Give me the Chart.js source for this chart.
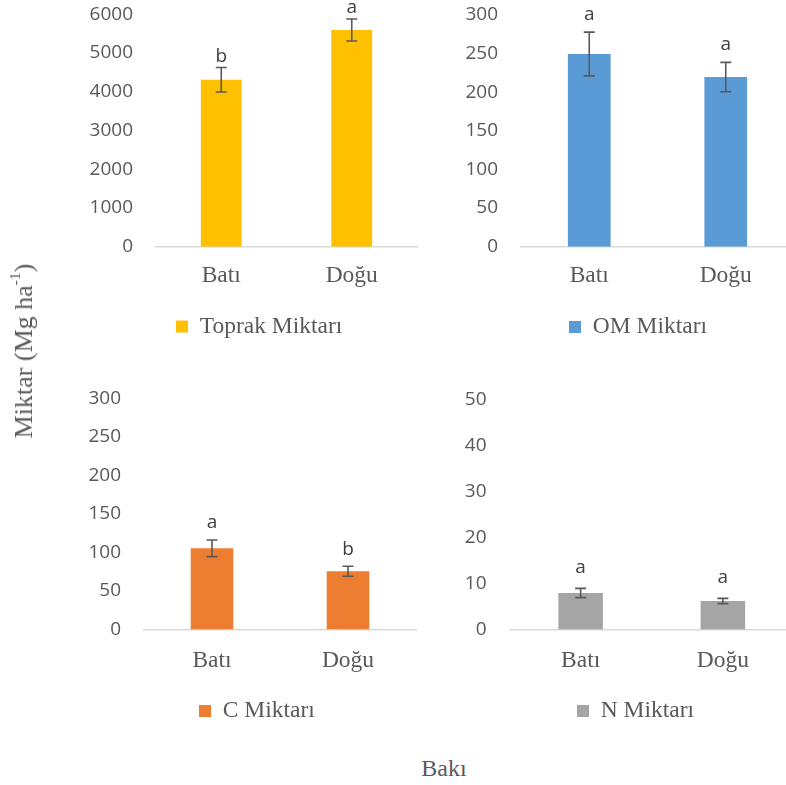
<!DOCTYPE html>
<html>
<head>
<meta charset="utf-8">
<script src="https://cdn.jsdelivr.net/npm/chart.js@4.4.1/dist/chart.umd.min.js"></script>
<style>
  html, body { margin: 0; padding: 0; background: #ffffff; }
  body { position: relative; width: 786px; height: 785px; overflow: hidden; }
  canvas { position: absolute; }
  .axis-title {
    position: absolute;
    font-family: "Liberation Serif", "Times New Roman", serif;
    color: #595959;
    white-space: nowrap;
    line-height: 1;
  }
  #yTitle {
    left: 24px; top: 351px; font-size: 26px;
    transform: translate(-50%, -50%) rotate(-90deg);
  }
  #yTitle .sup { font-size: 0.6em; position: relative; top: -0.75em; line-height: 0; }
  #xTitle {
    left: 444px; top: 768px; font-size: 24px;
    transform: translate(-50%, -50%);
  }
</style>
</head>
<body>
<canvas id="soilChart"></canvas>
<canvas id="omChart"></canvas>
<canvas id="cChart"></canvas>
<canvas id="nChart"></canvas>
<div class="axis-title" id="yTitle">Miktar (Mg ha<span class="sup">-1</span>)</div>
<div class="axis-title" id="xTitle">Bakı</div>

<script>
// Aspect categories shared by all four panels
const categories = ['Batı', 'Doğu'];

// Soil amount (Mg/ha)
const soilValues = [4310, 5595];
const soilErrors = [315, 284];
const soilLetters = ['b', 'a'];
const soilTicks = [0, 1000, 2000, 3000, 4000, 5000, 6000];

// Organic matter amount (Mg/ha)
const omValues = [249.5, 219.7];
const omErrors = [28.3, 19.0];
const omLetters = ['a', 'a'];
const omTicks = [0, 50, 100, 150, 200, 250, 300];

// Carbon amount (Mg/ha)
const cValues = [105.4, 75.5];
const cErrors = [10.8, 6.5];
const cLetters = ['a', 'b'];
const cTicks = [0, 50, 100, 150, 200, 250, 300];

// Nitrogen amount (Mg/ha)
const nValues = [7.93, 6.19];
const nErrors = [1.0, 0.58];
const nLetters = ['a', 'a'];
const nTicks = [0, 10, 20, 30, 40, 50];

const TICK_FONT = { family: '"Open Sans", "Noto Sans", sans-serif', size: 19 };
const SERIF_FONT = { family: '"Liberation Serif", "Times New Roman", serif', size: 23.5 };
const TEXT_GREY = '#595959';

const panels = [
  { id: 'soilChart', label: 'Toprak Miktarı', color: '#FFC000',
    values: soilValues, errors: soilErrors, letters: soilLetters, ticks: soilTicks,
    box: { x: 0, y: 0, w: 425 }, area: { l: 156, t: 14.3, r: 417, b: 246.7 },
    xLabelPad: 15, legendAt: { x: 176, y: 326.5 }, letterGap: 6 },
  { id: 'omChart', label: 'OM Miktarı', color: '#5B9BD5',
    values: omValues, errors: omErrors, letters: omLetters, ticks: omTicks,
    box: { x: 430, y: 0, w: 364 }, area: { l: 521, t: 15, r: 794, b: 246.7 },
    xLabelPad: 15, legendAt: { x: 569, y: 327 }, letterGap: 12 },
  { id: 'cChart', label: 'C Miktarı', color: '#ED7D31',
    values: cValues, errors: cErrors, letters: cLetters, ticks: cTicks,
    box: { x: 0, y: 385, w: 425 }, area: { l: 144, t: 398.3, r: 416, b: 629.5 },
    xLabelPad: 17.5, legendAt: { x: 199, y: 711 }, letterGap: 11.5 },
  { id: 'nChart', label: 'N Miktarı', color: '#A5A5A5',
    values: nValues, errors: nErrors, letters: nLetters, ticks: nTicks,
    box: { x: 430, y: 385, w: 364 }, area: { l: 509.5, t: 399.3, r: 794, b: 629.5 },
    xLabelPad: 17.5, legendAt: { x: 577, y: 711 }, letterGap: 15 }
];

// Error bars with significance letters above each bar
function errorBarPlugin(p) {
  return {
    id: 'errorBars',
    afterDatasetsDraw(chart) {
      const ctx = chart.ctx;
      const yScale = chart.scales.y;
      const meta = chart.getDatasetMeta(0);
      const data = chart.data.datasets[0].data;
      ctx.save();
      meta.data.forEach((bar, i) => {
        const top = yScale.getPixelForValue(data[i] + p.errors[i]);
        const bot = yScale.getPixelForValue(data[i] - p.errors[i]);
        ctx.strokeStyle = '#595959';
        ctx.lineWidth = 1.6;
        ctx.beginPath();
        ctx.moveTo(bar.x, top); ctx.lineTo(bar.x, bot);
        ctx.moveTo(bar.x - 5.5, top); ctx.lineTo(bar.x + 5.5, top);
        ctx.moveTo(bar.x - 5.5, bot); ctx.lineTo(bar.x + 5.5, bot);
        ctx.stroke();
        ctx.fillStyle = '#404040';
        ctx.font = `${TICK_FONT.size}px ${TICK_FONT.family}`;
        ctx.textAlign = 'center';
        ctx.textBaseline = 'alphabetic';
        ctx.fillText(p.letters[i], bar.x, top - p.letterGap);
      });
      ctx.restore();
    }
  };
}

// Puts the legend entry below each panel's axis labels
function legendPlacer(p) {
  return {
    id: 'legendPlacer',
    afterLayout(chart) {
      const lg = chart.legend;
      if (!lg) return;
      const w = lg.width, h = lg.height;
      lg.left = p.legendAt.x - p.box.x;
      lg.right = lg.left + w;
      lg.top = p.legendAt.y - p.box.y - SERIF_FONT.size / 2;
      lg.bottom = lg.top + h;
    }
  };
}

panels.forEach(p => {
  const canvas = document.getElementById(p.id);
  const height = Math.round(p.area.b - p.box.y + 110);
  canvas.width = p.box.w;
  canvas.height = height;
  canvas.style.left = p.box.x + 'px';
  canvas.style.top = p.box.y + 'px';
  canvas.style.width = p.box.w + 'px';
  canvas.style.height = height + 'px';

  const yWidth = p.area.l - p.box.x;
  const xHeight = p.box.y + height - p.area.b;

  new Chart(canvas, {
    type: 'bar',
    data: {
      labels: categories,
      datasets: [{
        label: p.label,
        data: p.values,
        backgroundColor: p.color,
        borderWidth: 0,
        barPercentage: 0.313,
        categoryPercentage: 1.0
      }]
    },
    options: {
      responsive: false,
      animation: false,
      devicePixelRatio: 1,
      layout: {
        padding: { left: 0, top: p.area.t - p.box.y, right: p.box.x + p.box.w - p.area.r, bottom: 0 }
      },
      plugins: {
        tooltip: { enabled: false },
        legend: {
          display: true,
          position: 'chartArea',
          align: 'start',
          labels: {
            boxWidth: 12, boxHeight: 12, padding: 0,
            color: TEXT_GREY, font: SERIF_FONT
          }
        }
      },
      scales: {
        x: {
          offset: true,
          grid: { display: false, drawTicks: false },
          border: { display: true, color: '#D9D9D9', width: 1.5 },
          ticks: { color: TEXT_GREY, font: SERIF_FONT, padding: p.xLabelPad, maxRotation: 0 },
          afterFit(scale) {
            scale.height = xHeight;
            scale.paddingLeft = 0; scale.paddingRight = 0;
          }
        },
        y: {
          min: p.ticks[0],
          max: p.ticks[p.ticks.length - 1],
          grid: { display: false, drawTicks: false },
          border: { display: false },
          ticks: {
            color: TEXT_GREY, font: TICK_FONT, padding: 23,
            callback: v => String(v)
          },
          afterBuildTicks(scale) { scale.ticks = p.ticks.map(v => ({ value: v })); },
          afterFit(scale) {
            scale.width = yWidth;
            scale.paddingTop = 0; scale.paddingBottom = 0;
          }
        }
      }
    },
    plugins: [errorBarPlugin(p), legendPlacer(p)]
  });
});
</script>
</body>
</html>
